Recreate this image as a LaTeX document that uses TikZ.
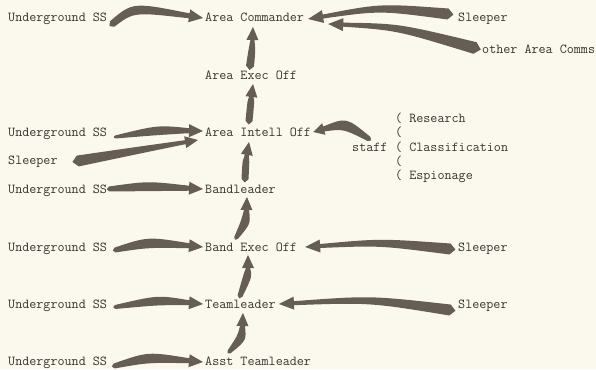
\documentclass[tikz,border=0pt]{standalone}
\usepackage{fontspec}
\usetikzlibrary{calc}
\definecolor{bgc}{RGB}{251,249,238}
\definecolor{textc}{RGB}{55,52,48}
\definecolor{arrowc}{RGB}{102,93,85}
\newcommand\swoosh[8]{%
 \coordinate (sw-s) at (#1);
 \coordinate (sw-c) at (#2);
 \coordinate (sw-e) at (#3);
 \coordinate (sw-b) at ($(sw-e)!#7!(sw-c)$);
 \coordinate (sw-sl) at ($(sw-s)!#4!90:(sw-c)$);
 \coordinate (sw-sr) at ($(sw-s)!#4!-90:(sw-c)$);
 \coordinate (sw-st) at ($(sw-s)!-#4!(sw-c)$);
 \coordinate (sw-bl) at ($(sw-b)!#6!-90:(sw-c)$);
 \coordinate (sw-br) at ($(sw-b)!#6!90:(sw-c)$);
 \coordinate (sw-hl) at ($(sw-b)!#8!-90:(sw-c)$);
 \coordinate (sw-hr) at ($(sw-b)!#8!90:(sw-c)$);
 \coordinate (sw-n) at ($(sw-s)!#5!90:(sw-b)$);
 \coordinate (sw-cl) at ($(sw-c)+(sw-n)-(sw-s)$);
 \coordinate (sw-cr) at ($(sw-c)-(sw-n)+(sw-s)$);
 \fill[arrowc] (sw-sl) .. controls (sw-cl) .. (sw-bl) -- (sw-hl) -- (sw-e) -- (sw-hr) -- (sw-br) .. controls (sw-cr) .. (sw-sr) -- (sw-st) -- cycle;
}
\begin{document}
\begin{tikzpicture}[x=1pt,y=-1pt,
  txt/.style={anchor=base west, inner sep=0pt, text height=9pt, text depth=3pt,
    font=\fontsize{13.7}{16}\selectfont\ttfamily\addfontfeature{FakeBold=0.6}, text=textc}]
\useasboundingbox (0,0) rectangle (596,369);
\fill[bgc] (0,0) rectangle (596,369);
% texts
\node[txt] (ug1) at (8,22) {Underground SS};
\node[txt] (ac) at (205,22) {Area Commander};
\node[txt] (sl1) at (458,22) {Sleeper};
\node[txt] (oac) at (482,53) {other Area Comms};
\node[txt] (aeo) at (205,79) {Area Exec Off};
\node[txt] (ug3) at (8,136) {Underground SS};
\node[txt] (aio) at (205,136) {Area Intell Off};
\node[txt] (sl2) at (8,164) {Sleeper};
\node[txt] (staff) at (352,151) {staff};
\node[txt] (p1) at (395,122) {( Research};
\node[txt] (p2) at (395,136.5) {(};
\node[txt] (p3) at (395,151) {( Classification};
\node[txt] (p4) at (395,165) {(};
\node[txt] (p5) at (395,179.5) {( Espionage};
\node[txt] (ug4) at (8,193) {Underground SS};
\node[txt] (bl) at (205,193) {Bandleader};
\node[txt] (ug5) at (8,251) {Underground SS};
\node[txt] (beo) at (205,251) {Band Exec Off};
\node[txt] (sl5) at (458,251) {Sleeper};
\node[txt] (ug6) at (8,308) {Underground SS};
\node[txt] (tl) at (205,308) {Teamleader};
\node[txt] (sl6) at (458,308) {Sleeper};
\node[txt] (ug7) at (8,365) {Underground SS};
\node[txt] (atl) at (205,365) {Asst Teamleader};
% arrows
\swoosh{$(ug1.base east)+(5,2)$}{$(ug1.base east)+(26,-15)$}{$(ac.base west)+(-2,-4)$}{3.5pt}{5pt}{2.5pt}{14pt}{6.5pt}
\swoosh{$(sl1.base west)+(-10,-8)$}{$(sl1.base west)+(-78,-15)$}{$(ac.base east)+(4,-3)$}{5.5pt}{3.5pt}{2pt}{15pt}{6.5pt}
\swoosh{$(oac.base west)+(-7,-5)$}{$(oac.base west)+(-84,-26)$}{$(ac.base east)+(24,2)$}{6pt}{3.5pt}{2pt}{15pt}{6.5pt}
\swoosh{$(aeo.base west)+(45,-13)$}{$(ac.base west)+(47,28)$}{$(ac.base west)+(48,5)$}{4pt}{3.5pt}{2pt}{13pt}{6pt}
\swoosh{$(aio.base west)+(44,-15)$}{$(aeo.base west)+(46,21)$}{$(aeo.base west)+(48,5)$}{3.5pt}{3.5pt}{2pt}{13pt}{6pt}
\swoosh{$(ug3.base east)+(8,1)$}{$(ug3.base east)+(51,-6)$}{$(aio.base west)+(-2,-5)$}{1.5pt}{5pt}{2.5pt}{14pt}{6.5pt}
\swoosh{$(sl2.base east)+(20,-3)$}{$(sl2.base east)+(82,-14)$}{$(aio.base west)+(-7,4)$}{5.5pt}{3.5pt}{2pt}{13pt}{6pt}
\swoosh{$(staff.base west)+(17,-12)$}{$(staff.base west)+(-7,-28)$}{$(aio.base east)+(2,-4)$}{2.5pt}{6pt}{2.5pt}{11pt}{6pt}
\swoosh{$(ug4.base east)+(2,-4)$}{$(ug4.base east)+(41,-7)$}{$(bl.base west)+(-2,-4)$}{2.5pt}{5pt}{2.5pt}{14pt}{6.5pt}
\swoosh{$(bl.base west)+(40,-14)$}{$(aio.base west)+(41,24)$}{$(aio.base west)+(44,6)$}{3.5pt}{3.5pt}{2pt}{13pt}{6pt}
\swoosh{$(beo.base west)+(31,-13)$}{$(bl.base west)+(41,29)$}{$(bl.base west)+(42,4)$}{2pt}{5pt}{2.5pt}{13pt}{6pt}
\swoosh{$(ug5.base east)+(8,-1)$}{$(ug5.base east)+(41,-9)$}{$(beo.base west)+(-2,-4)$}{2.5pt}{5.5pt}{2.5pt}{14pt}{6.5pt}
\swoosh{$(sl5.base west)+(-8,-2)$}{$(sl5.base west)+(-78,-9)$}{$(beo.base east)+(8,-4)$}{5.5pt}{3.5pt}{2pt}{15pt}{6.5pt}
\swoosh{$(tl.base west)+(35,-12)$}{$(beo.base west)+(43,24)$}{$(beo.base west)+(43,4)$}{2.5pt}{4.5pt}{2pt}{13pt}{6pt}
\swoosh{$(ug6.base east)+(8,-1)$}{$(ug6.base east)+(51,-8)$}{$(tl.base west)+(-2,-4)$}{2pt}{5pt}{2.5pt}{14pt}{6.5pt}
\swoosh{$(sl6.base west)+(-8,2)$}{$(sl6.base west)+(-88,-9)$}{$(tl.base east)+(3,-4)$}{5.5pt}{3.5pt}{2pt}{15pt}{6.5pt}
\swoosh{$(atl.base west)+(24,-13)$}{$(tl.base west)+(37,30)$}{$(tl.base west)+(38,5)$}{2pt}{5pt}{2.5pt}{13pt}{6pt}
\swoosh{$(ug7.base east)+(7,1)$}{$(ug7.base east)+(41,-8)$}{$(atl.base west)+(-2,-3)$}{2.5pt}{5.5pt}{2.5pt}{14pt}{6.5pt}
\end{tikzpicture}
\end{document}
